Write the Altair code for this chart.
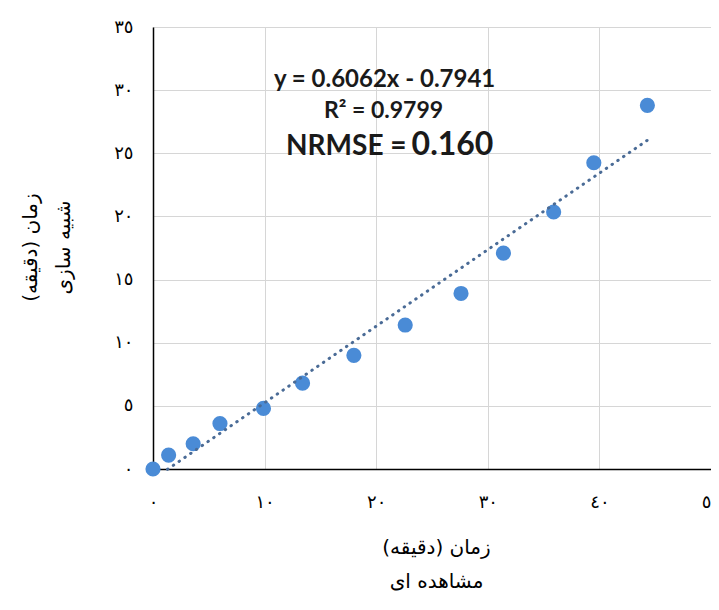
import altair as alt
import pandas as pd

# ---- data ----
observed = [0, 1.4, 3.6, 6.0, 9.9, 13.4, 18.0, 22.6, 27.6, 31.4, 35.9, 39.5, 44.3]
simulated = [0, 1.1, 2.0, 3.6, 4.8, 6.8, 9.0, 11.4, 13.9, 17.1, 20.35, 24.25, 28.8]

x_ticks = [0, 10, 20, 30, 40, 50]
x_tick_labels = ["٠", "١٠", "٢٠", "٣٠", "٤٠", "٥٠"]
y_ticks = [0, 5, 10, 15, 20, 25, 30, 35]
y_tick_labels = ["٠", "٥", "١٠", "١٥", "٢٠", "٢٥", "٣٠", "٣٥"]

x_title = ["(دقیقه) زمان", "مشاهده ای"]
y_title = ["\u202bزمان (دقیقه)\u202c", "شبیه سازی"]

eq_text = "y = 0.6062x - 0.7941"
r2_text = "R² = 0.9799"
nrmse_label = "NRMSE ="
nrmse_value = "0.160"
trend_extent = [1.3, 44.3]

df = pd.DataFrame({"obs": observed, "sim": simulated})


def label_expr(ticks, labels):
    expr = "''"
    for t, l in reversed(list(zip(ticks, labels))):
        expr = f"datum.value == {t} ? '{l}' : ({expr})"
    return expr


FA = "DejaVu Sans"
EN = "Lato"

x_enc = alt.X(
    "obs:Q",
    scale=alt.Scale(domain=[0, 50], nice=False),
    axis=alt.Axis(
        values=x_ticks,
        labelExpr=label_expr(x_ticks, x_tick_labels),
        title=x_title,
        titleFont=FA,
        titleFontSize=20,
        titleFontWeight="normal",
        titleColor="black",
        titleLineHeight=34,
        titleBaseline="middle",
        titleX=283,
        titleY=78,
        labelFont=FA,
        labelFontSize=18,
        labelColor="black",
        labelPadding=24,
        labelFlush=False,
        ticks=False,
        domainColor="black",
        domainWidth=1.5,
        gridColor="#d6d6d6",
        gridWidth=1,
    ),
)
y_enc = alt.Y(
    "sim:Q",
    scale=alt.Scale(domain=[0, 35], nice=False),
    axis=alt.Axis(
        values=y_ticks,
        labelExpr=label_expr(y_ticks, y_tick_labels),
        title=y_title,
        titleFont=FA,
        titleFontSize=20,
        titleFontWeight="normal",
        titleColor="black",
        titleLineHeight=33,
        titleBaseline="middle",
        titleAngle=-90,
        titleX=-123,
        titleY=220,
        labelFont=FA,
        labelFontSize=18,
        labelColor="black",
        labelPadding=20,
        ticks=False,
        domainColor="black",
        domainWidth=1.5,
        gridColor="#d6d6d6",
        gridWidth=1,
    ),
)

points = alt.Chart(df).mark_circle(size=230, color="#4a8bd6", opacity=1).encode(
    x=x_enc, y=y_enc
)

trend = (
    alt.Chart(df)
    .transform_regression(on="obs", regression="sim", extent=trend_extent)
    .mark_line(color="#4a6b96", strokeWidth=3, strokeDash=[0.5, 6.5], strokeCap="round")
    .encode(x="obs:Q", y="sim:Q")
)

one = pd.DataFrame({"t": [0]})

eq = alt.Chart(one).mark_text(
    text=eq_text, font=EN, fontSize=24, fontWeight="bold", align="center",
    baseline="alphabetic", color="#1a1a1a"
).encode(x=alt.datum(20.75), y=alt.datum(30.25))

r2 = alt.Chart(one).mark_text(
    text=r2_text, font=EN, fontSize=23, fontWeight="bold", align="center",
    baseline="alphabetic", color="#1a1a1a"
).encode(x=alt.datum(20.66), y=alt.datum(27.8))

nr1 = alt.Chart(one).mark_text(
    text=nrmse_label, font=EN, fontSize=28, fontWeight="bold", align="right",
    baseline="alphabetic", color="#1a1a1a"
).encode(x=alt.datum(22.72), y=alt.datum(24.86))

nr2 = alt.Chart(one).mark_text(
    text=nrmse_value, font=EN, fontSize=32, fontWeight="bold", align="left",
    baseline="alphabetic", color="#1a1a1a"
).encode(x=alt.datum(23.17), y=alt.datum(24.86))

chart = (
    alt.layer(points, trend, eq, r2, nr1, nr2)
    .properties(
        width=558,
        height=442,
        autosize=alt.AutoSizeParams(type="none"),
        padding={"left": 145, "top": 19, "right": 0, "bottom": 124},
        background="white",
    )
    .configure_view(stroke="transparent")
)

chart.save("out.html", embed_options={"renderer": "svg", "actions": False})
